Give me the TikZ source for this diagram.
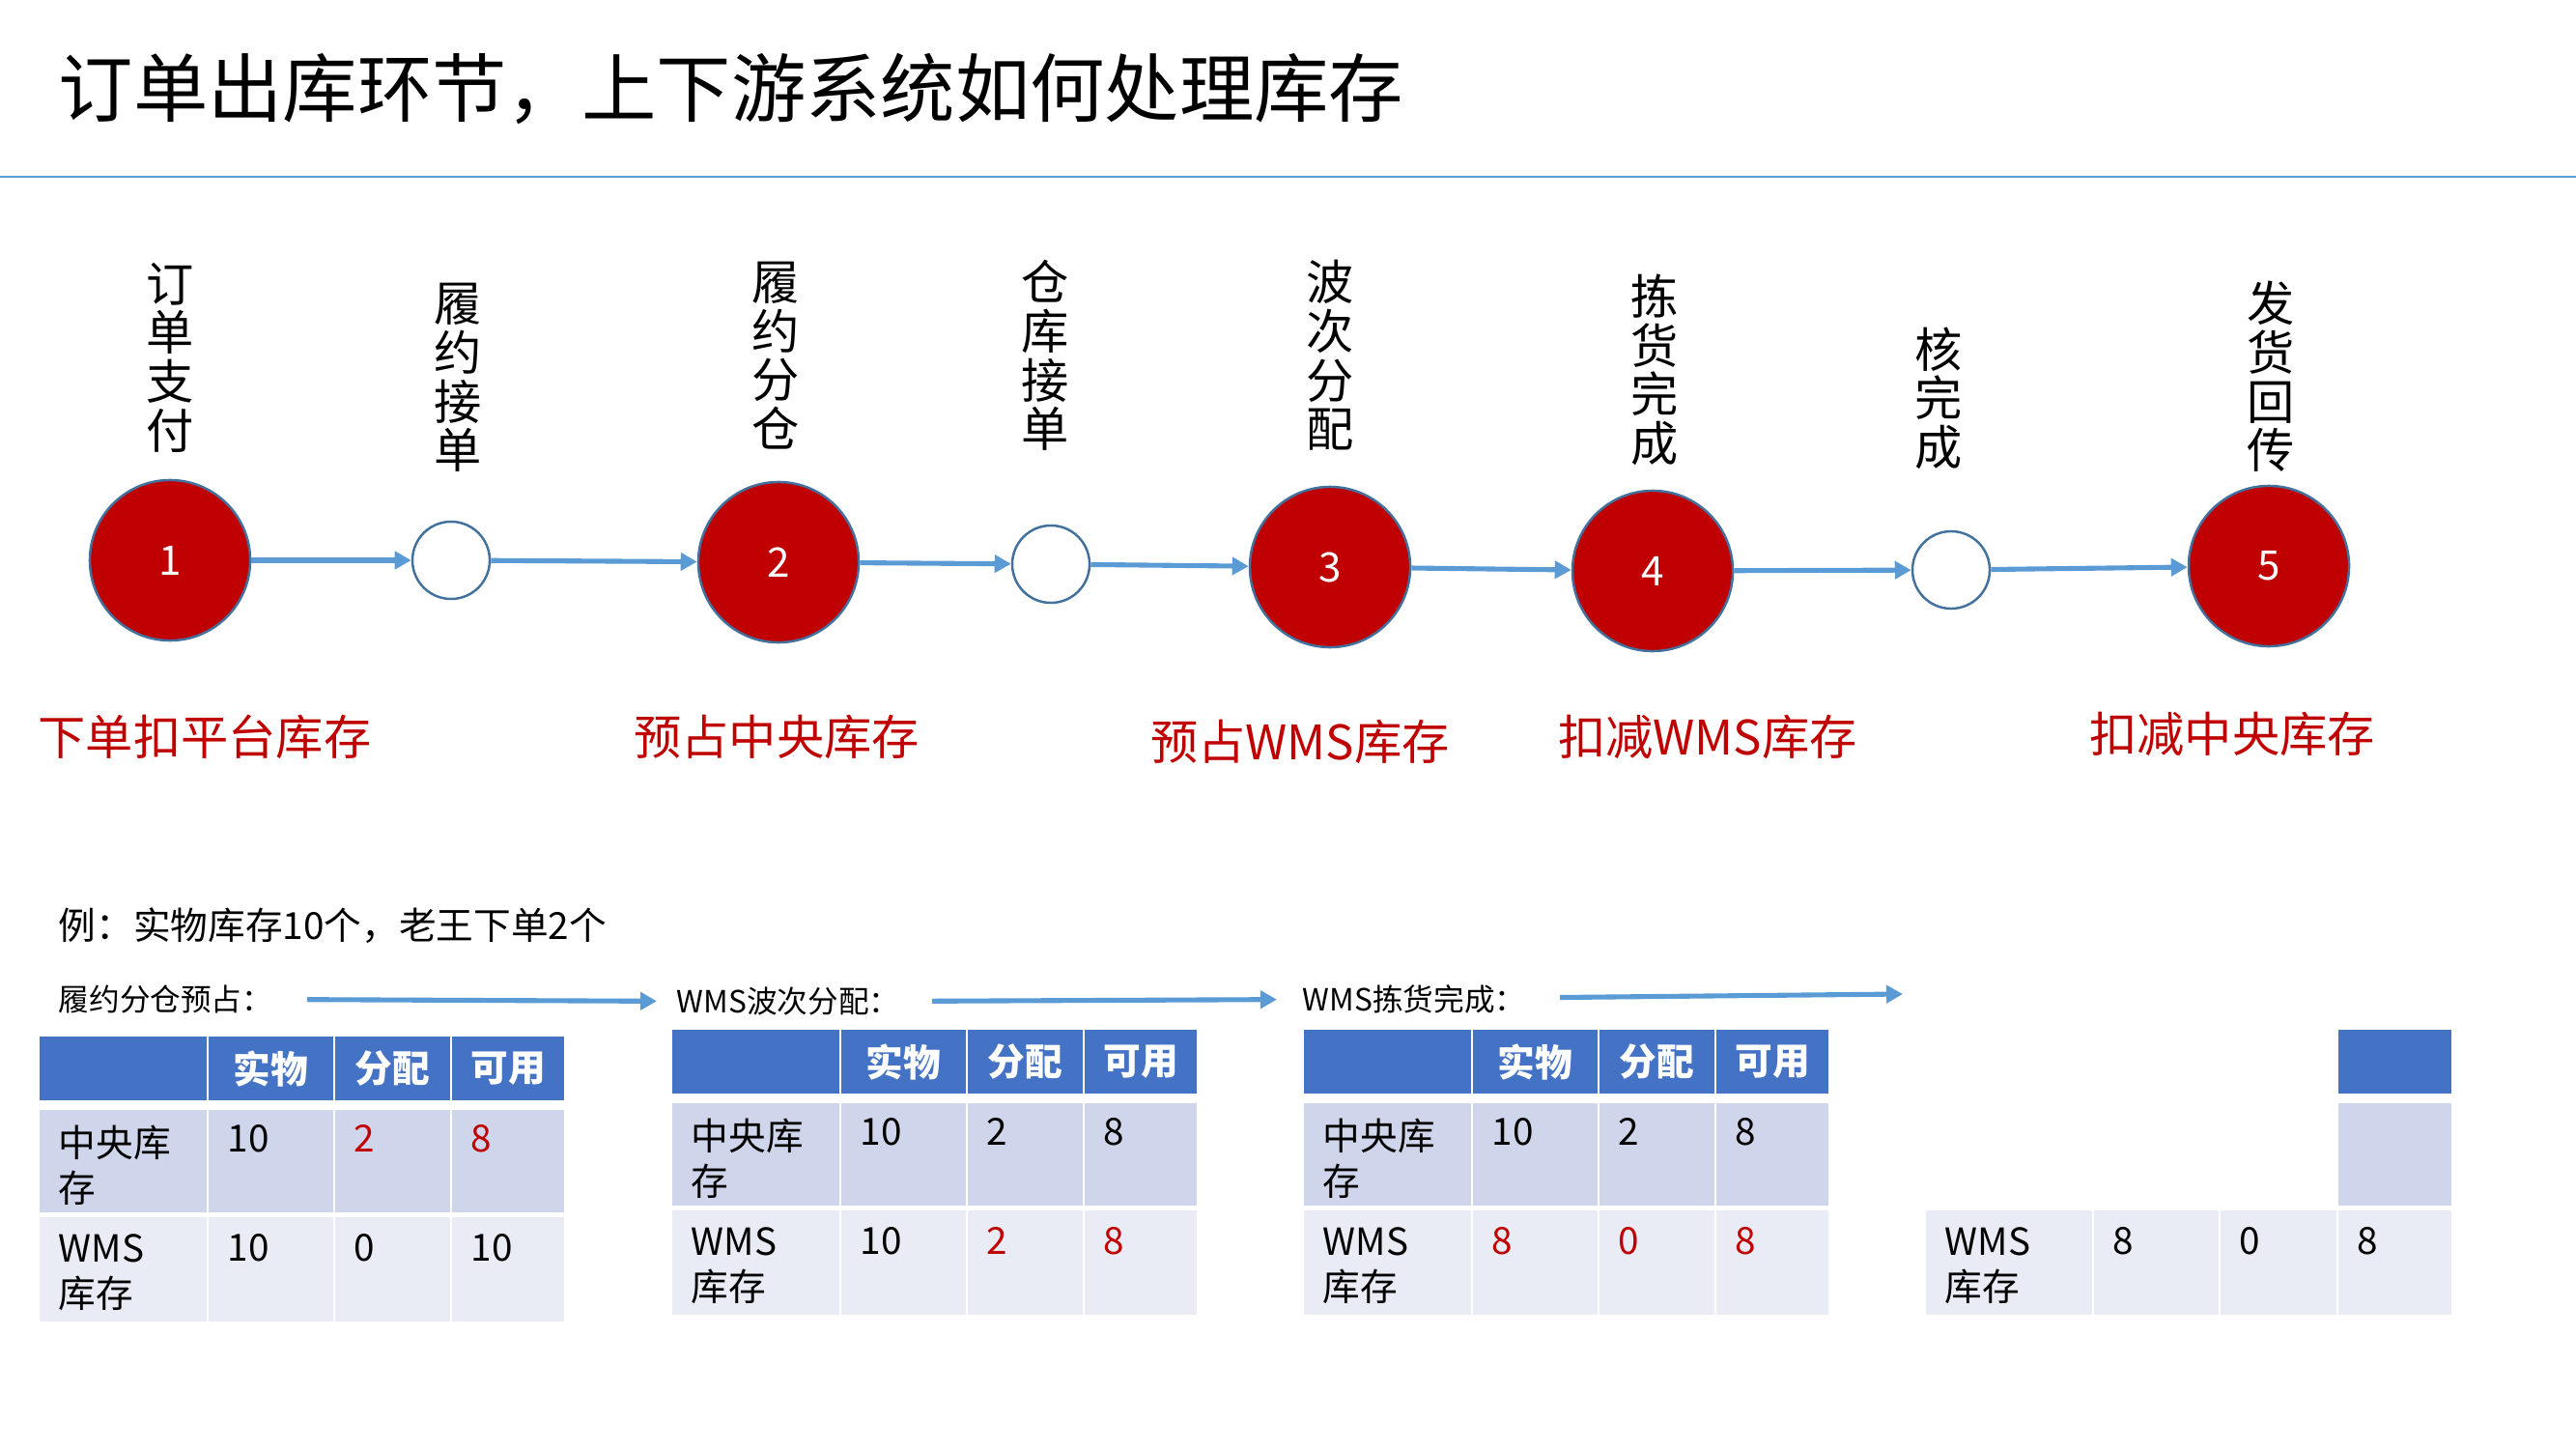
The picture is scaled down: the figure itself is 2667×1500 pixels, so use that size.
\documentclass[tikz,border=0pt]{standalone}
\usepackage{fontspec}
\setmainfont{Noto Sans CJK SC}
\usetikzlibrary{arrows.meta}

\definecolor{stopred}{HTML}{C00000}
\definecolor{rimblue}{HTML}{41719C}
\definecolor{flowblue}{HTML}{5B9BD5}
\definecolor{hdblue}{HTML}{4472C4}
\definecolor{rowa}{HTML}{CFD5EA}
\definecolor{rowb}{HTML}{E9EBF5}

\tikzset{
  stopnode/.style={circle, fill=stopred, draw=rimblue, line width=.7pt, minimum size=1.66cm, inner sep=0pt, text=white, font=\fontsize{12}{12}\selectfont},
  hopnode/.style={circle, fill=white, draw=rimblue, line width=.7pt, minimum size=.8cm, inner sep=0pt},
  flowarrow/.style={draw=flowblue, line width=1.45pt, -{Triangle[length=.17cm, width=.18cm]}},
  vlabel/.style={align=center, inner sep=0pt, font=\fontsize{14}{14.4}\selectfont},
  rlabel/.style={text=stopred, inner sep=0pt, font=\fontsize{14}{17}\selectfont},
  steptext/.style={anchor=west, inner sep=0pt, font=\fontsize{9}{11}\selectfont},
  hdcell/.style={fill=hdblue, draw=white, line width=.7pt},
  acell/.style={fill=rowa, draw=white, line width=.7pt},
  bcell/.style={fill=rowb, draw=white, line width=.7pt},
  hdtext/.style={text=white, inner sep=0pt, font=\fontsize{11}{13}\selectfont\bfseries},
  celltext/.style={anchor=north west, align=left, inner sep=0pt, font=\fontsize{11}{13.4}\selectfont},
}

\begin{document}
\begin{tikzpicture}[x=.01cm, y=-.01cm]
  \useasboundingbox (0,0) rectangle (2667,1500);

  %%title
  \node[anchor=west, inner sep=0pt, font=\fontsize{22}{26}\selectfont] (title) at (60,92) {订单出库环节，上下游系统如何处理库存};
  \draw[flowblue, line width=.8pt] (0,183) to (2667,183);

  %%flow
  \node[stopnode] (s1) at (176,580) {1};
  \node[hopnode] (h1) at (467,580) {};
  \node[stopnode] (s2) at (806,582) {2};
  \node[hopnode] (h2) at (1088,584) {};
  \node[stopnode] (s3) at (1377,587) {3};
  \node[stopnode] (s4) at (1711,591) {4};
  \node[hopnode] (h3) at (2020,590) {};
  \node[stopnode] (s5) at (2349,586) {5};

    \draw[flowarrow] (s1) to (h1);
    \draw[flowarrow] (h1) to (s2);
    \draw[flowarrow] (s2) to (h2);
    \draw[flowarrow] (h2) to (s3);
    \draw[flowarrow] (s3) to (s4);
    \draw[flowarrow] (s4) to (h3);
    \draw[flowarrow] (h3) to (s5);

  \node[vlabel] (v1) at (176,370) {订\\单\\支\\付};
  \node[vlabel] (v2) at (474,391) {履\\约\\接\\单};
  \node[vlabel] (v3) at (803,368) {履\\约\\分\\仓};
  \node[vlabel] (v4) at (1082,368) {仓\\库\\接\\单};
  \node[vlabel] (v5) at (1377,368) {波\\次\\分\\配};
  \node[vlabel] (v6) at (1713,383) {拣\\货\\完\\成};
  \node[vlabel] (v7) at (2007,412) {核\\完\\成};
  \node[vlabel] (v8) at (2351,390) {发\\货\\回\\传};

  \node[rlabel] (r1) at (212,763) {下单扣平台库存};
  \node[rlabel] (r2) at (804,763) {预占中央库存};
  \node[rlabel] (r3) at (1346,768) {预占WMS库存};
  \node[rlabel] (r4) at (1768,763) {扣减WMS库存};
  \node[rlabel] (r5) at (2311,760) {扣减中央库存};

  %%example
  \node[anchor=west, inner sep=0pt, font=\fontsize{11}{13}\selectfont] (ex) at (60,958) {例：实物库存10个，老王下单2个};

  \node[steptext] (p1) at (60,1034) {履约分仓预占：};
  \node[steptext] (p2) at (700,1037) {WMS波次分配：};
  \node[steptext] (p3) at (1348,1034) {WMS拣货完成：};
  \coordinate (p4) at (1970,1029);

    \draw[flowarrow, shorten <=.35cm, shorten >=.2cm] (p1) to (p2);
    \draw[flowarrow, shorten <=.33cm, shorten >=.26cm] (p2) to (p3);
    \draw[flowarrow, shorten <=.35cm] (p3) to (p4);

  %%t1
  \begin{scope}[shift={(40,1072)}]
    \path[hdcell] (0,0) rectangle (175,68) (175,0) rectangle (306,68) (306,0) rectangle (427,68) (427,0) rectangle (545,68);
    \path[acell] (0,76) rectangle (175,184) (175,76) rectangle (306,184) (306,76) rectangle (427,184) (427,76) rectangle (545,184);
    \path[bcell] (0,187) rectangle (175,297) (175,187) rectangle (306,297) (306,187) rectangle (427,297) (427,187) rectangle (545,297);
      \node[hdtext] (t1h1) at (240,34) {实物};
      \node[hdtext] (t1h2) at (366,34) {分配};
      \node[hdtext] (t1h3) at (486,34) {可用};
      \node[celltext] (t1a0) at (20,92) {中央库\\存};
      \node[celltext] (t1a1) at (195,92) {10};
      \node[celltext, text=stopred] (t1a2) at (326,92) {2};
      \node[celltext, text=stopred] (t1a3) at (447,92) {8};
      \node[celltext] (t1b0) at (20,205) {WMS\\库存};
      \node[celltext] (t1b1) at (195,205) {10};
      \node[celltext] (t1b2) at (326,205) {0};
      \node[celltext] (t1b3) at (447,205) {10};
  \end{scope}

  %%t2
  \begin{scope}[shift={(695,1065)}]
    \path[hdcell] (0,0) rectangle (175,68) (175,0) rectangle (306,68) (306,0) rectangle (427,68) (427,0) rectangle (545,68);
    \path[acell] (0,76) rectangle (175,184) (175,76) rectangle (306,184) (306,76) rectangle (427,184) (427,76) rectangle (545,184);
    \path[bcell] (0,187) rectangle (175,297) (175,187) rectangle (306,297) (306,187) rectangle (427,297) (427,187) rectangle (545,297);
      \node[hdtext] (t2h1) at (240,34) {实物};
      \node[hdtext] (t2h2) at (366,34) {分配};
      \node[hdtext] (t2h3) at (486,34) {可用};
      \node[celltext] (t2a0) at (20,92) {中央库\\存};
      \node[celltext] (t2a1) at (195,92) {10};
      \node[celltext] (t2a2) at (326,92) {2};
      \node[celltext] (t2a3) at (447,92) {8};
      \node[celltext] (t2b0) at (20,205) {WMS\\库存};
      \node[celltext] (t2b1) at (195,205) {10};
      \node[celltext, text=stopred] (t2b2) at (326,205) {2};
      \node[celltext, text=stopred] (t2b3) at (447,205) {8};
  \end{scope}

  %%t3
  \begin{scope}[shift={(1349,1065)}]
    \path[hdcell] (0,0) rectangle (175,68) (175,0) rectangle (306,68) (306,0) rectangle (427,68) (427,0) rectangle (545,68);
    \path[acell] (0,76) rectangle (175,184) (175,76) rectangle (306,184) (306,76) rectangle (427,184) (427,76) rectangle (545,184);
    \path[bcell] (0,187) rectangle (175,297) (175,187) rectangle (306,297) (306,187) rectangle (427,297) (427,187) rectangle (545,297);
      \node[hdtext] (t3h1) at (240,34) {实物};
      \node[hdtext] (t3h2) at (366,34) {分配};
      \node[hdtext] (t3h3) at (486,34) {可用};
      \node[celltext] (t3a0) at (20,92) {中央库\\存};
      \node[celltext] (t3a1) at (195,92) {10};
      \node[celltext] (t3a2) at (326,92) {2};
      \node[celltext] (t3a3) at (447,92) {8};
      \node[celltext] (t3b0) at (20,205) {WMS\\库存};
      \node[celltext, text=stopred] (t3b1) at (195,205) {8};
      \node[celltext, text=stopred] (t3b2) at (326,205) {0};
      \node[celltext, text=stopred] (t3b3) at (447,205) {8};
  \end{scope}

  %%t4
  \begin{scope}[shift={(1993,1065)}]
    \path[hdcell] (427,0) rectangle (546,68);
    \path[acell] (427,76) rectangle (546,184);
    \path[bcell] (0,187) rectangle (174,297) (174,187) rectangle (305,297) (305,187) rectangle (427,297) (427,187) rectangle (546,297);
      \node[celltext] (t4b0) at (20,205) {WMS\\库存};
      \node[celltext] (t4b1) at (194,205) {8};
      \node[celltext] (t4b2) at (325,205) {0};
      \node[celltext] (t4b3) at (447,205) {8};
  \end{scope}

\end{tikzpicture}
\end{document}
